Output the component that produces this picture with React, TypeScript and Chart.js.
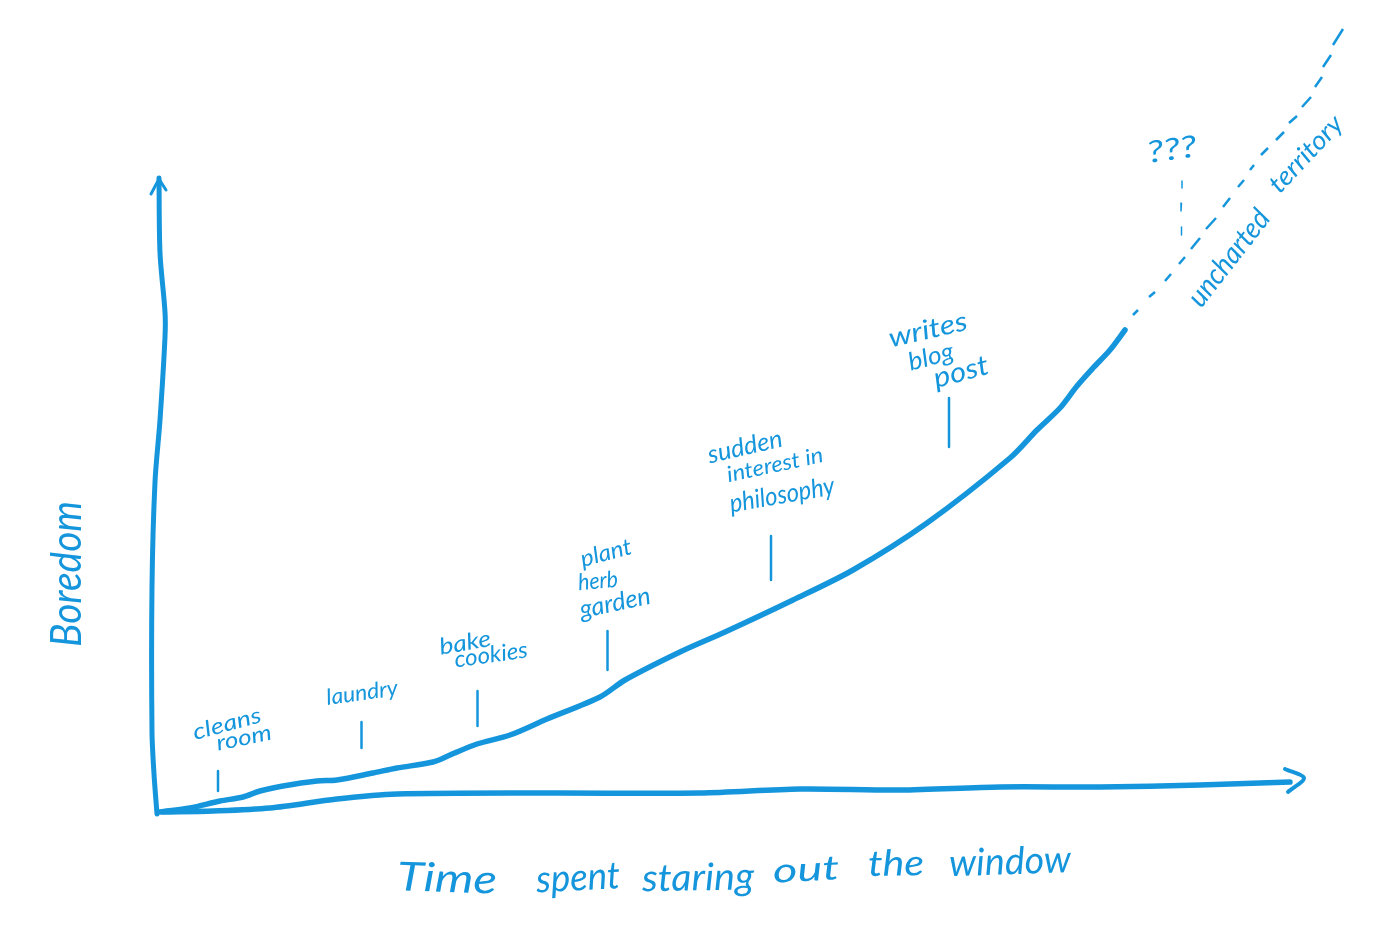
import React, { useEffect, useRef } from "react";
import { Chart, registerables } from "chart.js";

Chart.register(...registerables);

const INK = "#1596dc";

// Values are measured from the origin of the sketch (time, boredom).
const curveTime = [3, 33, 63, 86, 103, 126, 160, 180, 216, 240, 276, 293, 320, 353, 390, 443, 468, 523, 568, 636, 696, 770, 853, 880, 903, 920, 936, 953, 968];
const curveBoredom = [0, 4, 11, 15, 21, 26, 31, 32, 39, 44, 50, 57, 68, 77, 93, 115, 132, 160, 180, 212, 242, 289, 354, 382, 404, 426, 444, 462, 482];

const xAxisTime = [6, 56, 113, 180, 240, 393, 543, 643, 743, 843, 943, 1043, 1133];
const xAxisBoredom = [0, 1, 4, 13, 18, 19, 19, 23, 22, 25, 25, 27, 30];
const xArrowTime = [1128, 1147, 1131];
const xArrowBoredom = [43, 34, 20];

const yAxisTime = [0, -3, -5, -5, -2, 3, 8, 8, 3, 2];
const yAxisBoredom = [-2, 38, 80, 225, 330, 392, 475, 500, 559, 634];
const yArrowTime = [-6, 2, 9];
const yArrowBoredom = [618, 633, 622];

const unchartedStart = [[976, 497], [992, 515], [1008, 531], [1022, 548], [1034, 563], [1049, 583], [1066, 605], [1081, 625], [1093, 642], [1104, 657], [1119, 672], [1132, 689], [1145, 705], [1158, 725], [1166, 745], [1176, 767]];
const unchartedEnd = [[981, 502], [998, 520], [1014, 538], [1028, 555], [1043, 574], [1059, 594], [1073, 614], [1087, 632], [1097, 647], [1111, 664], [1127, 680], [1140, 696], [1154, 715], [1165, 735], [1174, 757], [1186, 783]];

const pointerStart = [[1025, 631], [1024.5, 609], [1024.5, 585]];
const pointerEnd = [[1025, 624], [1024, 601], [1024.5, 577]];

const milestoneTime = [61, 204.5, 320.5, 450.5, 614, 792];
const milestoneTop = [41, 90, 121, 181, 276, 414];
const milestoneBottom = [21, 64, 86, 142, 232, 365];

const labelTexts = ["cleans", "room", "laundry", "bake", "cookies", "plant", "herb", "garden", "sudden", "interest in", "philosophy", "writes", "blog", "post", "Boredom", "Time", "spent", "staring", "out", "the", "window", "uncharted", "territory", "???"];
const labelTime = [70, 87, 205, 308, 334, 449, 441, 458, 588, 618, 625, 771, 774, 804, -90, 290, 421, 541, 649, 739, 853, 1072, 1149, 1015];
const labelBoredom = [88, 74, 119, 169, 157, 259, 231, 209, 365, 347, 317, 482, 455, 440, 238, -67, -66, -66, -58, -52, -50, 554, 658, 662];

// Presentation of each label: font size, fitted width, rotation in degrees.
const labelSize = [22, 22, 22, 23, 23, 23, 23, 25, 25, 22, 26, 27, 25, 28, 42, 40, 38, 38, 34, 36, 38, 29, 26, 30];
const labelWidth = [70, 56, 72, 52, 74, 52, 40, 72, 76, 98, 106, 80, 46, 56, 146, 100, 84, 112, 66, 56, 122, 114, 95, 50];
const labelAngle = [-15, -12, -8, -10, -8, -15, -5, -12, -13, -12, -10, -13, -15, -15, -90, 2, -3, -1, -3, -1, -2, -52, -47, -8];

const segments = (starts: number[][], ends: number[][]) =>
  starts.flatMap((s, i) => [
    { x: s[0], y: s[1] },
    { x: ends[i][0], y: ends[i][1] },
    { x: s[0], y: null },
  ]);

const zip = (xs: number[], ys: number[]) => xs.map((x, i) => ({ x, y: ys[i] }));

const handLabels = {
  id: "handLabels",
  afterDatasetsDraw(chart: any) {
    const { ctx, scales } = chart;
    labelTexts.forEach((text, i) => {
      ctx.save();
      ctx.translate(scales.x.getPixelForValue(labelTime[i]), scales.y.getPixelForValue(labelBoredom[i]));
      ctx.rotate((labelAngle[i] * Math.PI) / 180);
      ctx.font = `italic ${labelSize[i]}px Lato`;
      ctx.scale(labelWidth[i] / ctx.measureText(text).width, 1);
      ctx.textAlign = "center";
      ctx.textBaseline = "middle";
      ctx.fillStyle = INK;
      ctx.fillText(text, 0, 0);
      ctx.restore();
    });
  },
};

export default function App() {
  const ref = useRef<HTMLCanvasElement>(null);

  useEffect(() => {
    const stroke = (label: string, data: any[], width: number, tension = 0, cap = "round") => ({
      label,
      data,
      borderColor: INK,
      borderWidth: width,
      borderCapStyle: cap,
      borderJoinStyle: "round",
      pointRadius: 0,
      tension,
      spanGaps: false,
      fill: false,
    });

    const chart = new Chart(ref.current!, {
      type: "line",
      data: {
        datasets: [
          stroke("Boredom curve", zip(curveTime, curveBoredom), 5.5, 0.3),
          stroke("Time axis", zip(xAxisTime, xAxisBoredom), 5.5, 0.3),
          stroke("Time arrow", zip(xArrowTime, xArrowBoredom), 4, 0.3),
          stroke("Boredom axis", zip(yAxisTime, yAxisBoredom), 5, 0.3),
          stroke("Boredom arrow", zip(yArrowTime, yArrowBoredom), 3),
          stroke("Uncharted territory", segments(unchartedStart, unchartedEnd), 2.5, 0, "butt"),
          stroke("Pointer", segments(pointerStart, pointerEnd), 1.5, 0, "butt"),
          stroke(
            "Milestones",
            segments(
              milestoneTime.map((t, i) => [t, milestoneTop[i]]),
              milestoneTime.map((t, i) => [t, milestoneBottom[i]])
            ),
            2.5
          ),
        ] as any,
      },
      options: {
        responsive: false,
        animation: false,
        parsing: { xAxisKey: "x", yAxisKey: "y" },
        layout: { padding: 0 },
        plugins: { legend: { display: false }, tooltip: { enabled: false } },
        scales: {
          x: { type: "linear", display: false, min: -157, max: 1243 },
          y: { type: "linear", display: false, min: -122, max: 812 },
        },
      },
      plugins: [handLabels],
    } as any);
    return () => chart.destroy();
  }, []);

  return (
    <canvas
      ref={ref}
      width={1400}
      height={934}
      style={{ position: "fixed", left: 0, top: 0, width: 1400, height: 934, background: "#ffffff" }}
    />
  );
}
